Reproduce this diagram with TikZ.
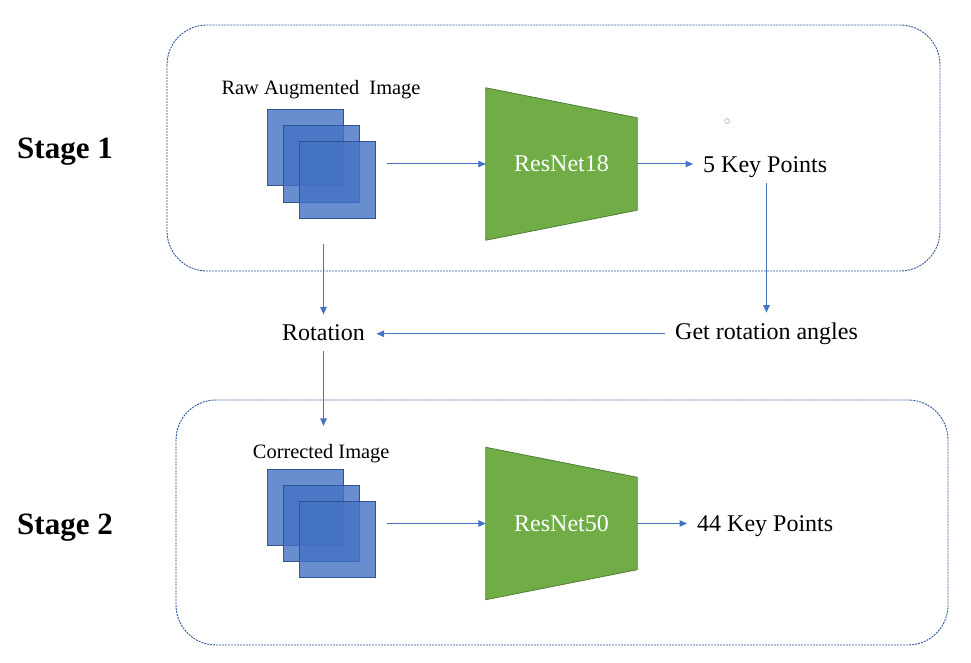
\documentclass[tikz,border=0pt]{standalone}
\usepackage{fontspec}
\setmainfont{Liberation Serif}
\usetikzlibrary{arrows.meta}

\definecolor{boxline}{HTML}{2F5597}
\definecolor{flow}{HTML}{4472C4}
\definecolor{netfill}{HTML}{70AD47}
\definecolor{netline}{HTML}{507E32}
\definecolor{dotgray}{HTML}{A6A6A6}

\begin{document}
\begin{tikzpicture}[x=1pt,y=-1pt,
  stagebox/.style={draw=boxline, line width=0.9pt, dash pattern=on 2pt off 1pt, rounded corners=40pt},
  imgsq/.style={draw=boxline, line width=1pt, fill=flow, fill opacity=0.8, minimum size=76pt, inner sep=0pt},
  stackarea/.style={minimum width=108pt, minimum height=107pt, inner sep=0pt},
  netarea/.style={minimum width=151pt, minimum height=152pt, inner sep=0pt, text=white, font=\fontsize{24}{28}\selectfont},
  netshape/.style={draw=netline, line width=0.8pt, fill=netfill},
  label/.style={inner sep=0pt, font=\fontsize{24}{28}\selectfont},
  caption/.style={inner sep=0pt, font=\fontsize{20.4}{24}\selectfont},
  stagetitle/.style={inner sep=0pt, font=\fontsize{31}{36}\selectfont\bfseries},
  flowarrow/.style={draw=flow, line width=1pt, -{Triangle[length=7.5pt,width=6.5pt]}}
]
\useasboundingbox (0,0) rectangle (971,663);

% stage frames
\draw[stagebox] (167,25) rectangle (940,271);
\draw[stagebox] (176,400) rectangle (948,645);

% stage titles
\node[stagetitle, anchor=base west] (st1) at (17,159) {Stage 1};
\node[stagetitle, anchor=base west] (st2) at (17,534) {Stage 2};

% ---------- stage 1 ----------
\node[caption, anchor=base] (rawlab) at (321,94.3) {Raw Augmented~ Image};
\node[imgsq] (s1a) at (305,148) {};
\node[imgsq] (s1b) at (321,164) {};
\node[imgsq] (s1c) at (337,180) {};
\node[stackarea] (img1) at (321,163.5) {};

\node[netarea] (net1) at (561.5,164) {};
\draw[netshape] (net1.north west) -- ([yshift=-30pt]net1.north east)
  -- ([yshift=30pt]net1.south east) -- (net1.south west) -- cycle;
\node[netarea] (net1lab) at (net1.center) {ResNet18};

\node[label, anchor=base west] (kp1) at (703,172) {5 Key Points};
\draw[dotgray, line width=0.6pt] (727,121) circle (2.4pt);

% ---------- between stages ----------
\node[label, anchor=base] (rot) at (323.5,340) {Rotation};
\node[label, anchor=base west] (angles) at (675,339.5) {Get rotation angles};

% ---------- stage 2 ----------
\node[caption, anchor=base] (corlab) at (321.2,458.3) {Corrected Image};
\node[imgsq] (s2a) at (305,507) {};
\node[imgsq] (s2b) at (321,523) {};
\node[imgsq] (s2c) at (337,539) {};
\node[stackarea] (img2) at (321,522.5) {};

\node[netarea] (net2) at (561.5,523.5) {};
\draw[netshape] (net2.north west) -- ([yshift=-30pt]net2.north east)
  -- ([yshift=30pt]net2.south east) -- (net2.south west) -- cycle;
\node[netarea] (net2lab) at (net2.center) {ResNet50};

\node[label, anchor=base west] (kp2) at (697,531) {44 Key Points};

% ---------- connectors ----------
\draw[flowarrow, shorten <=12pt] (img1.east |- net1.west) -- (net1.west);
\draw[flowarrow, shorten >=10pt] (net1.east) -- (net1.east -| kp1.west);
\draw[flowarrow, shorten <=6pt, shorten >=10pt] (kp1.south -| angles.north) -- (angles.north);
\draw[flowarrow, shorten <=10pt, shorten >=11.5pt] (angles.west) -- (angles.west -| rot.east);
\draw[flowarrow, shorten <=27pt, shorten >=9.5pt] (rot.north |- img1.south) -- (rot.north);
\draw[flowarrow, shorten <=10.5pt, shorten >=18pt] (rot.south) -- (rot.south |- corlab.north);
\draw[flowarrow, shorten <=12pt] (img2.east |- net2.west) -- (net2.west);
\draw[flowarrow, shorten >=10pt] (net2.east) -- (net2.east -| kp2.west);
\end{tikzpicture}
\end{document}
